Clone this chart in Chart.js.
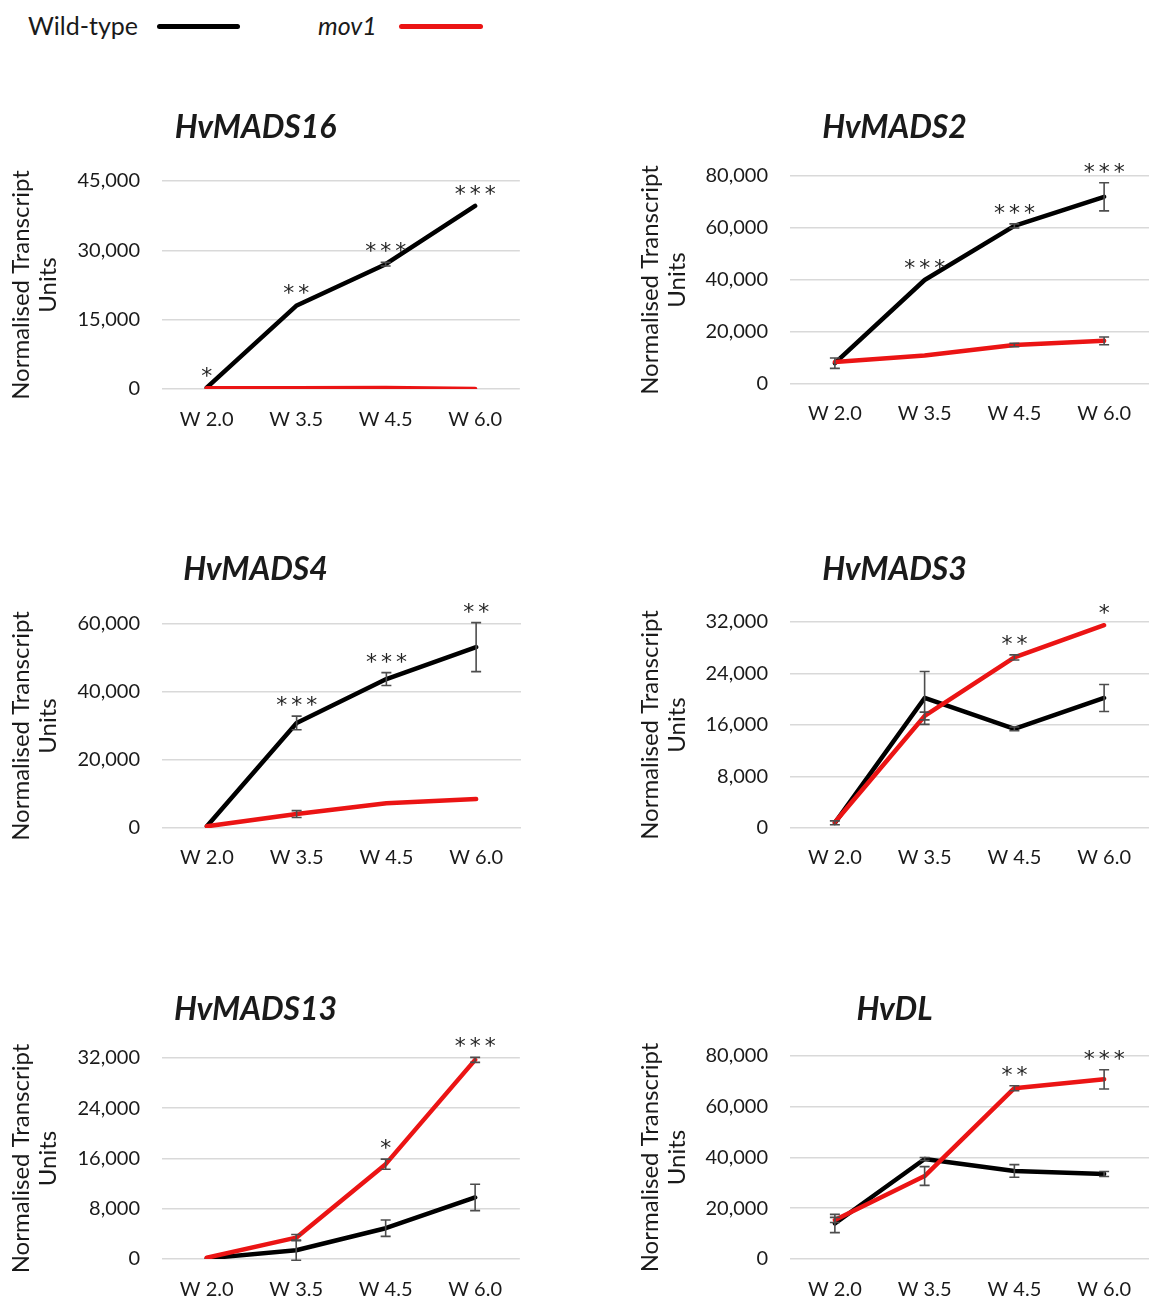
<!DOCTYPE html>
<html><head><meta charset="utf-8">
<script src="https://cdn.jsdelivr.net/npm/chart.js@4.4.1/dist/chart.umd.min.js"></script>
<style>
html,body{margin:0;padding:0;background:#fff;width:1151px;height:1299px;overflow:hidden;position:relative;font-family:Lato,"Open Sans",sans-serif;color:#1a1a1a}
canvas{position:absolute}
.lt{position:absolute;font-size:25px;line-height:30px;top:10px}
.ll{position:absolute;height:5px;border-radius:3px;top:24px}
</style></head><body>
<div class="lt" style="left:28px">Wild-type</div>
<div class="ll" style="left:157px;width:83px;background:#000"></div>
<div class="lt" style="left:318px;font-style:italic">mov1</div>
<div class="ll" style="left:399px;width:84px;background:rgb(235,20,20)"></div>
<canvas id="c1"></canvas><canvas id="c2"></canvas><canvas id="c3"></canvas>
<canvas id="c4"></canvas><canvas id="c5"></canvas><canvas id="c6"></canvas>
<script>
// ---------------- DATA ----------------
const categories = ['W 2.0', 'W 3.5', 'W 4.5', 'W 6.0'];
const seriesNames = ['Wild-type', 'mov1'];
const geneTitles = ['HvMADS16', 'HvMADS2', 'HvMADS4', 'HvMADS3', 'HvMADS13', 'HvDL'];

const mads16WT = [300, 18000, 27000, 39600];
const mads16WTErr = [150, 300, 400, 300];
const mads16Mov = [150, 150, 200, 0];
const mads16MovErr = [50, 50, 50, 50];
const mads16Stars = ['*', '**', '***', '***'];

const mads2WT = [8000, 40000, 60800, 72000];
const mads2WTErr = [2000, 500, 800, 5400];
const mads2Mov = [8500, 11000, 15000, 16600];
const mads2MovErr = [500, 300, 700, 1500];
const mads2Stars = ['', '***', '***', '***'];

const mads4WT = [500, 30900, 43800, 53200];
const mads4WTErr = [200, 2000, 1900, 7200];
const mads4Mov = [500, 4100, 7300, 8500];
const mads4MovErr = [100, 1000, 200, 200];
const mads4Stars = ['', '***', '***', '**'];

const mads3WT = [800, 20200, 15400, 20200];
const mads3WTErr = [300, 4100, 300, 2100];
const mads3Mov = [900, 17400, 26500, 31500];
const mads3MovErr = [200, 600, 400, 200];
const mads3Stars = ['', '', '**', '*'];

const mads13WT = [100, 1400, 4900, 9800];
const mads13WTErr = [50, 1600, 1300, 2100];
const mads13Mov = [200, 3400, 15100, 31700];
const mads13MovErr = [50, 500, 800, 400];
const mads13Stars = ['', '', '*', '***'];

const dlWT = [14000, 39400, 34700, 33500];
const dlWTErr = [3600, 600, 2500, 1000];
const dlMov = [15400, 32700, 67300, 70800];
const dlMovErr = [1000, 3700, 1000, 3800];
const dlStars = ['', '', '**', '***'];

const yMaxes = [45000, 80000, 60000, 32000, 32000, 80000];
const ySteps = [15000, 20000, 20000, 8000, 8000, 20000];
const starSeries = [0, 0, 0, 1, 1, 1]; // 0 = Wild-type, 1 = mov1

// ---------------- STYLE / LAYOUT ----------------
const RED = 'rgb(235,20,20)';
const TXT = '#1a1a1a';
const FONT = 'Lato, "Open Sans", sans-serif';

const layouts = [
  {id:'c1', left:-10, right:521, top:95, bottom:445, pL:162, pR:521, pT:181, pB:389, tY:128, xY:420, yT:21},
  {id:'c2', left:640, right:1151, top:95, bottom:440, pL:790, pR:1149, pT:176, pB:384, tY:128, xY:414, yT:650},
  {id:'c3', left:-10, right:521, top:537, bottom:885, pL:162, pR:521, pT:624, pB:828, tY:570, xY:858, yT:21},
  {id:'c4', left:640, right:1151, top:537, bottom:885, pL:790, pR:1149, pT:622, pB:828, tY:570, xY:858, yT:650},
  {id:'c5', left:-10, right:521, top:977, bottom:1310, pL:162, pR:521, pT:1058, pB:1259, tY:1010, xY:1290, yT:21},
  {id:'c6', left:640, right:1151, top:977, bottom:1310, pL:790, pR:1149, pT:1056, pB:1259, tY:1010, xY:1290, yT:650}
];

const chartData = [
  [mads16WT, mads16WTErr, mads16Mov, mads16MovErr, mads16Stars],
  [mads2WT, mads2WTErr, mads2Mov, mads2MovErr, mads2Stars],
  [mads4WT, mads4WTErr, mads4Mov, mads4MovErr, mads4Stars],
  [mads3WT, mads3WTErr, mads3Mov, mads3MovErr, mads3Stars],
  [mads13WT, mads13WTErr, mads13Mov, mads13MovErr, mads13Stars],
  [dlWT, dlWTErr, dlMov, dlMovErr, dlStars]
];

const errorBarPlugin = {
  id: 'errorBars',
  afterDatasetsDraw(chart) {
    const ctx = chart.ctx, ys = chart.scales.y;
    ctx.save();
    ctx.strokeStyle = '#4d4d4d';
    ctx.lineWidth = 1.6;
    chart.data.datasets.forEach((ds, di) => {
      const meta = chart.getDatasetMeta(di);
      meta.data.forEach((pt, i) => {
        const v = ds.data[i], e = ds.errors[i];
        const yt = ys.getPixelForValue(v + e), yb = ys.getPixelForValue(v - e);
        if (Math.abs(yb - yt) < 3) return;
        ctx.beginPath();
        ctx.moveTo(pt.x, yt); ctx.lineTo(pt.x, yb);
        ctx.moveTo(pt.x - 5, yt); ctx.lineTo(pt.x + 5, yt);
        ctx.moveTo(pt.x - 5, yb); ctx.lineTo(pt.x + 5, yb);
        ctx.stroke();
      });
    });
    ctx.restore();
  }
};

const starPlugin = {
  id: 'stars',
  afterDatasetsDraw(chart, args, opts) {
    const ctx = chart.ctx, ys = chart.scales.y;
    const ds = chart.data.datasets.find(d => d.seriesIndex === opts.series);
    const meta = chart.getDatasetMeta(chart.data.datasets.indexOf(ds));
    ctx.save();
    ctx.fillStyle = '#262626';
    ctx.font = '22px "DejaVu Sans", sans-serif';
    ctx.textAlign = 'center';
    ctx.textBaseline = 'alphabetic';
    opts.labels.forEach((s, i) => {
      if (!s) return;
      const cy = ys.getPixelForValue(ds.data[i] + ds.errors[i]) - 17;
      const x0 = meta.data[i].x - (s.length - 1) * 7.5;
      for (let k = 0; k < s.length; k++) ctx.fillText('*', x0 + k * 15, cy + 13);
    });
    ctx.restore();
  }
};

layouts.forEach((L, idx) => {
  const [wt, wtErr, mov, movErr, stars] = chartData[idx];
  const cv = document.getElementById(L.id);
  const W = L.right - L.left, H = L.bottom - L.top;
  cv.width = W; cv.height = H;
  cv.style.left = L.left + 'px'; cv.style.top = L.top + 'px';
  cv.style.width = W + 'px'; cv.style.height = H + 'px';
  const titleLH = 38;
  const titlePadTop = L.tY - L.top - titleLH / 2;
  const titlePadBottom = L.pT - L.top - titlePadTop - titleLH;
  new Chart(cv, {
    type: 'line',
    data: {
      labels: categories,
      datasets: [
        {label: seriesNames[1], seriesIndex: 1, data: mov, errors: movErr, borderColor: RED, backgroundColor: RED,
         borderWidth: 4.5, pointRadius: 0, tension: 0, borderCapStyle: 'round', borderJoinStyle: 'round'},
        {label: seriesNames[0], seriesIndex: 0, data: wt, errors: wtErr, borderColor: '#000', backgroundColor: '#000',
         borderWidth: 4.5, pointRadius: 0, tension: 0, borderCapStyle: 'round', borderJoinStyle: 'round'}
      ]
    },
    options: {
      responsive: false, animation: false, devicePixelRatio: 1,
      layout: {padding: {left: 0, top: 0, bottom: 0, right: L.right - L.pR}},
      plugins: {
        legend: {display: false}, tooltip: {enabled: false},
        title: {display: true, text: geneTitles[idx], color: TXT,
                font: {family: FONT, size: 32, weight: 'bold', style: 'italic', lineHeight: titleLH + 'px'},
                padding: {top: titlePadTop, bottom: titlePadBottom}},
        stars: {labels: stars, series: starSeries[idx]}
      },
      scales: {
        x: {
          offset: true,
          grid: {display: false, drawTicks: false},
          border: {display: false},
          ticks: {color: TXT, font: {family: FONT, size: 20, lineHeight: 1.2}, padding: L.xY - L.pB - 12, maxRotation: 0},
          afterFit: s => { s.height = L.bottom - L.pB; }
        },
        y: {
          min: 0, max: yMaxes[idx],
          grid: {color: '#d9d9d9', lineWidth: 1.6, drawTicks: false},
          border: {display: false},
          ticks: {stepSize: ySteps[idx], color: TXT, font: {family: FONT, size: 20}, padding: 22,
                  callback: v => v.toLocaleString('en-US')},
          title: {display: true, text: ['Normalised Transcript', 'Units'], color: TXT,
                  font: {family: FONT, size: 24, lineHeight: '27px'}, padding: {top: L.yT - L.left - 13.5, bottom: 0}},
          afterFit: s => { s.width = L.pL - L.left; }
        }
      }
    },
    plugins: [errorBarPlugin, starPlugin]
  });
});
</script>
</body></html>
